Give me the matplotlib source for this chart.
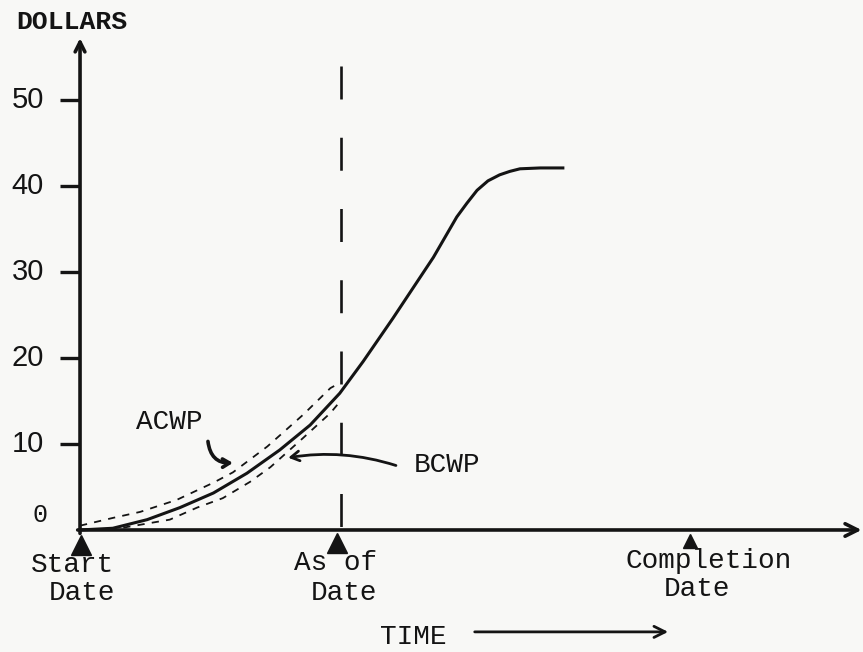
import numpy as np
import matplotlib
matplotlib.use('Agg')
import matplotlib.pyplot as plt

# Earned value chart (typewritten / hand-drawn style)

# Values. Time runs 0..100 along the axis.
bcws_t = [0, 4.2, 8.6, 12.8, 17.1, 21.4, 25.6, 29.5, 33.3, 36.3, 40.1, 44.2,
          45.3, 48.3, 49.6, 50.9, 52.3, 53.8, 55.1, 56.4, 59.0, 61.9]
bcws = [0, 0.2, 1.2, 2.6, 4.3, 6.6, 9.3, 12.2, 15.9, 19.6, 24.6, 30.2,
        31.7, 36.4, 38.0, 39.5, 40.6, 41.3, 41.7, 42.0, 42.1, 42.1]

acwp_t = [0, 4.2, 7.7, 12.4, 17.1, 19.6, 24.0, 28.6, 32.1, 33.3]
acwp = [0.5, 1.4, 2.1, 3.5, 5.5, 6.7, 9.7, 13.4, 16.5, 17.1]

bcwp_t = [0, 5.1, 11.5, 15.0, 18.3, 21.8, 24.4, 28.6, 32.1, 33.3]
bcwp = [0, 0.2, 1.2, 2.6, 3.7, 5.6, 7.3, 10.7, 13.6, 14.9]

y_ticks = [10, 20, 30, 40, 50]
milestones = [0, 33.3, 78.2]
milestone_labels = [('Start', 'Date'), ('As of', 'Date'), ('Completion', 'Date')]

ink = '#141414'
paper = '#f8f8f6'
typed = 'Liberation Mono'

fig = plt.figure(figsize=(8.63, 6.52), dpi=100, facecolor=paper)
ax = fig.add_axes([0, 0, 1, 1])
ax.set_facecolor(paper)
ax.set_xlim(-10.26, 100.38)
ax.set_ylim(-14.19, 61.63)
ax.axis('off')

# Axes drawn as arrows
ax.annotate('', xy=(100.2, 0), xytext=(-0.3, 0),
            arrowprops=dict(arrowstyle='->,head_length=0.9,head_width=0.45',
                            color=ink, lw=2.6, shrinkA=0, shrinkB=0))
ax.annotate('', xy=(0, 57.2), xytext=(0, -0.4),
            arrowprops=dict(arrowstyle='->,head_length=0.7,head_width=0.35',
                            color=ink, lw=2.6, shrinkA=0, shrinkB=0))

# y ticks and labels
for v in y_ticks:
    ax.plot([-2.6, 0], [v, v], color=ink, lw=2.4, solid_capstyle='butt')
    ax.text(-6.7, v, str(v), fontsize=21, family='Liberation Sans',
            ha='center', va='center', color=ink)
ax.text(-5.1, 1.7, '0', fontsize=18, family=typed, ha='center', va='center', color=ink)
ax.text(-1.1, 59.1, 'DOLLARS', fontsize=19, family=typed, ha='center',
        va='center', color=ink, fontweight='bold')

# Curves
ax.plot(bcws_t, bcws, color=ink, lw=2.2, solid_joinstyle='round')
ax.plot(acwp_t, acwp, color=ink, lw=1.3, dashes=(4, 4))
ax.plot(bcwp_t, bcwp, color=ink, lw=1.3, dashes=(4, 4))

# As-of date line, drawn top-down so the dash pattern starts at the top
ax.plot([milestones[1] + 0.2] * 2, [53.9, 0], color=ink, lw=1.9, dashes=(12.5, 14.5))

# Milestone triangles
ax.plot(milestones[0] + 0.1, -1.75, marker='^', ms=15, color=ink, ls='none')
ax.plot(milestones[1] - 0.4, -1.5, marker='^', ms=14, color=ink, ls='none')
ax.plot(milestones[2], -1.25, marker='^', ms=10, color=ink, ls='none')

# Milestone labels
label_pos = [((-1.0, -4.1), (0.3, -7.35)),
             ((32.7, -3.85), (33.85, -7.35)),
             ((80.6, -3.6), (79.1, -6.9))]
for (top, bottom), (p1, p2) in zip(milestone_labels, label_pos):
    ax.text(p1[0], p1[1], top, fontsize=20, family=typed, ha='center', va='center', color=ink)
    ax.text(p2[0], p2[1], bottom, fontsize=20, family=typed, ha='center', va='center', color=ink)

# TIME label with arrow
ax.text(42.7, -12.45, 'TIME', fontsize=20, family=typed, ha='center', va='center', color=ink)
ax.annotate('', xy=(75.4, -11.85), xytext=(50.6, -11.85),
            arrowprops=dict(arrowstyle='->,head_length=0.8,head_width=0.4',
                            color=ink, lw=2.0, shrinkA=0, shrinkB=0))

# Curve labels
ax.text(11.4, 12.55, 'ACWP', fontsize=20, family=typed, ha='center', va='center', color=ink)
ax.annotate('', xy=(19.6, 7.8), xytext=(16.4, 10.3),
            arrowprops=dict(arrowstyle='->,head_length=0.5,head_width=0.3',
                            color=ink, lw=2.6, shrinkA=0, shrinkB=0,
                            connectionstyle='arc3,rad=0.45'))
ax.text(47.1, 7.55, 'BCWP', fontsize=20, family=typed, ha='center', va='center', color=ink)
ax.annotate('', xy=(26.7, 8.4), xytext=(40.5, 7.5),
            arrowprops=dict(arrowstyle='->,head_length=0.6,head_width=0.35',
                            color=ink, lw=2.0, shrinkA=0, shrinkB=0,
                            connectionstyle='arc3,rad=0.12'))

fig.savefig('out.png', dpi=100, facecolor=paper)
